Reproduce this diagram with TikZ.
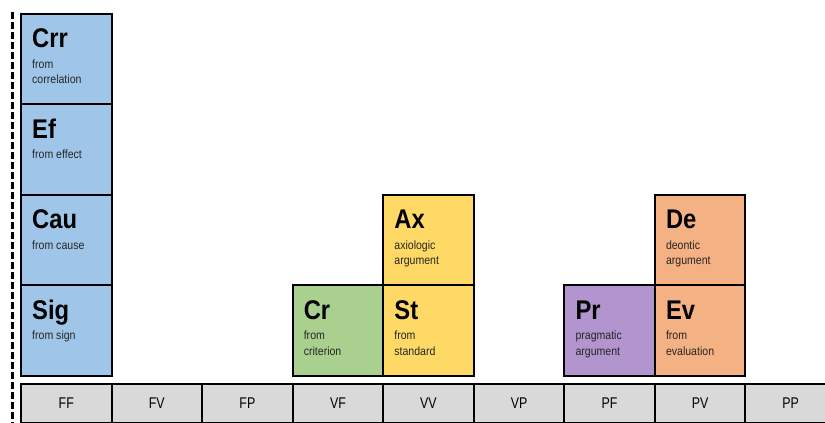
\documentclass[tikz,border=0pt]{standalone}
\usepackage{fontspec}
\setmainfont{Liberation Sans}
\newfontfamily\titlefont[FakeStretch=0.88]{Liberation Sans}
\newfontfamily\narrowfont[FakeStretch=0.88]{Liberation Sans}
\newfontfamily\barfont[FakeStretch=0.8]{Liberation Sans}
\definecolor{cblue}{HTML}{9FC5E8}
\definecolor{cgreen}{HTML}{A9D08E}
\definecolor{cyellow}{HTML}{FFD966}
\definecolor{cpurple}{HTML}{B294CF}
\definecolor{corange}{HTML}{F4B183}
\definecolor{cgray}{HTML}{D9D9D9}
\definecolor{subtext}{HTML}{262626}
\tikzset{
  cellbox/.style={draw=black, line width=2pt, minimum width=90.5pt, minimum height=90.5pt, inner sep=0pt, anchor=north west},
  titletext/.style={anchor=base west, inner sep=0pt, font=\titlefont\bfseries\fontsize{27}{27}\selectfont},
  subtextstyle/.style={anchor=base west, inner sep=0pt, text=subtext, font=\narrowfont\fontsize{12}{14}\selectfont},
  barcell/.style={draw=black, line width=2pt, fill=cgray, minimum width=90.55pt, minimum height=39pt, inner sep=0pt, anchor=north west, font=\barfont\fontsize{15.5}{17}\selectfont},
  axisline/.style={line width=3pt, dash pattern=on 7pt off 3pt}
}
% #1 name, #2 left, #3 top, #4 colour, #5 title, #6 line1, #7 line2
\newcommand{\argbox}[7]{%
  \node[cellbox, fill=#4] (#1) at (#2,#3) {};
  \node[titletext] (#1-t) at ([xshift=12pt,yshift=-35pt]#1.north west) {#5};
  \node[subtextstyle] (#1-a) at ([xshift=12pt,yshift=-55.5pt]#1.north west) {#6};
  \node[subtextstyle] (#1-b) at ([xshift=12pt,yshift=-71pt]#1.north west) {#7};
}
\begin{document}
\begin{tikzpicture}[x=1pt,y=-1pt]
\useasboundingbox (0,0) rectangle (825,423);
\clip (0,0) rectangle (825,423);
\fill[white] (0,0) rectangle (825,423);
% dashed axis
\coordinate (axtop) at (12,12);
\coordinate (axbot) at (12,425);
\draw[axisline] (axtop) -- (axbot);
% blue column
\argbox{crr}{20}{12.5}{cblue}{Crr}{from}{correlation}
\argbox{ef}{20}{103}{cblue}{Ef}{from effect}{}
\argbox{cau}{20}{193.5}{cblue}{Cau}{from cause}{}
\argbox{sig}{20}{284}{cblue}{Sig}{from sign}{}
% green / yellow
\argbox{cr}{291.6}{284}{cgreen}{Cr}{from}{criterion}
\argbox{ax}{382.2}{193.5}{cyellow}{Ax}{axiologic}{argument}
\argbox{st}{382.2}{284}{cyellow}{St}{from}{standard}
% purple / orange
\argbox{pr}{563.3}{284}{cpurple}{Pr}{pragmatic}{argument}
\argbox{de}{653.8}{193.5}{corange}{De}{deontic}{argument}
\argbox{ev}{653.8}{284}{corange}{Ev}{from}{evaluation}
% bottom bar
\node[barcell] (ff) at (20,383) {FF};
\node[barcell] (fv) at (110.55,383) {FV};
\node[barcell] (fp) at (201.1,383) {FP};
\node[barcell] (vf) at (291.65,383) {VF};
\node[barcell] (vv) at (382.2,383) {VV};
\node[barcell] (vp) at (472.75,383) {VP};
\node[barcell] (pf) at (563.3,383) {PF};
\node[barcell] (pv) at (653.85,383) {PV};
\node[barcell] (pp) at (744.4,383) {PP};
\end{tikzpicture}
\end{document}
